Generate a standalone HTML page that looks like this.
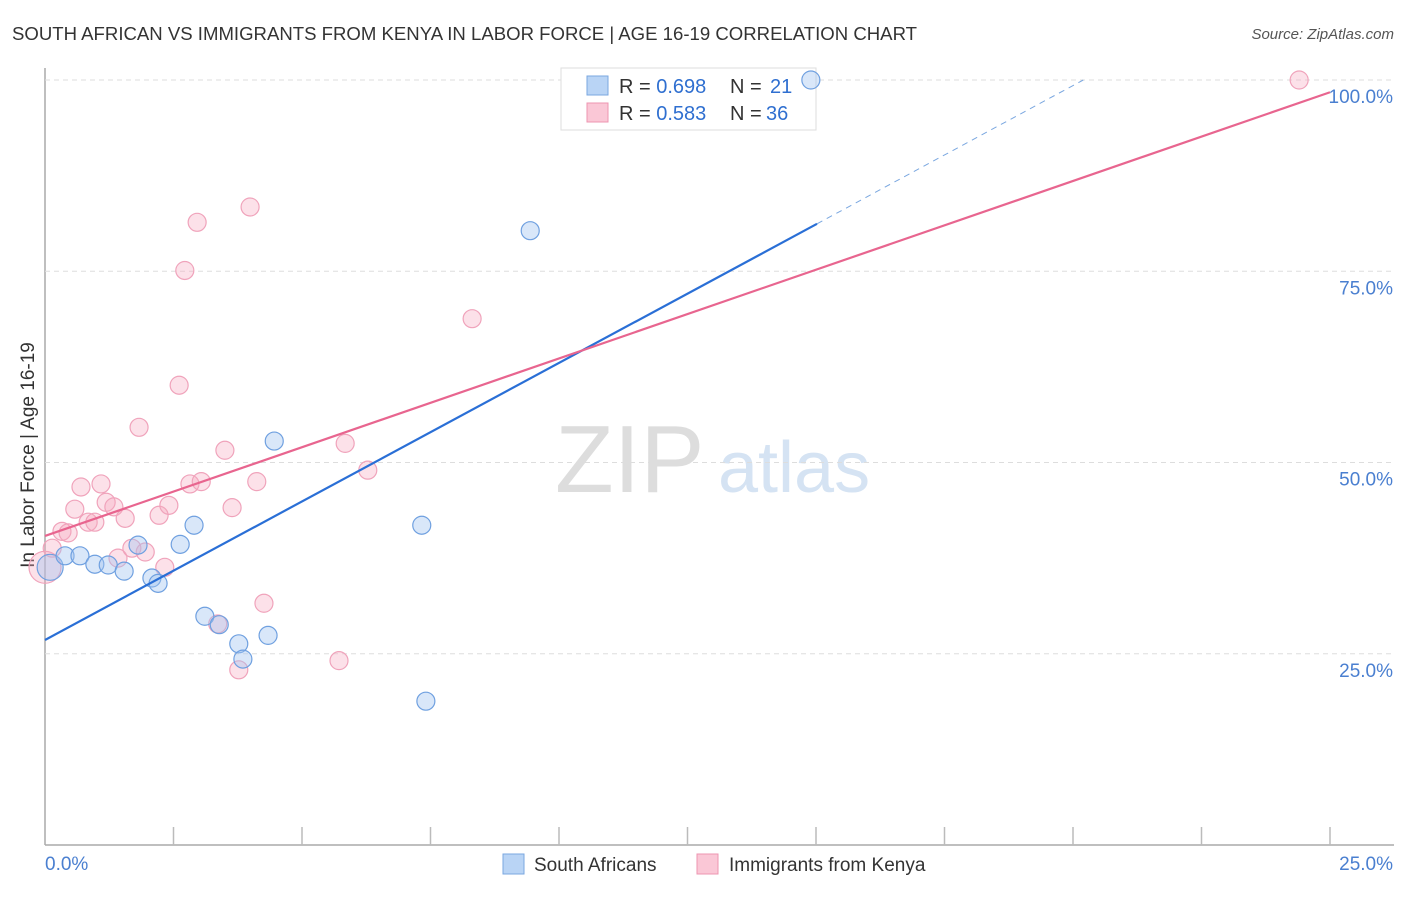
<!DOCTYPE html>
<html><head><meta charset="utf-8"><style>
body{margin:0;background:#fff;font-family:"Liberation Sans",sans-serif}
svg text{font-family:"Liberation Sans",sans-serif}
</style></head><body>
<svg id="c" width="1406" height="892">
<text x="12" y="40" font-size="18" fill="#333" textLength="905" lengthAdjust="spacingAndGlyphs">SOUTH AFRICAN VS IMMIGRANTS FROM KENYA IN LABOR FORCE | AGE 16-19 CORRELATION CHART</text>
<text x="1394" y="39" font-size="15" fill="#555" font-style="italic" text-anchor="end">Source: ZipAtlas.com</text>
<text x="555" y="492" font-size="96" fill="#ddd" font-family="Liberation Serif">ZIP</text>
<text x="718" y="492" font-size="72" fill="#d5e3f3">atlas</text>
<text transform="translate(34,455) rotate(-90)" font-size="19" fill="#333" text-anchor="middle">In Labor Force | Age 16-19</text>
<g id="grid"></g>
<g>
<rect x="561" y="68" width="255" height="62" fill="#fff" stroke="#ddd"/>
<rect x="587" y="76" width="21" height="19" fill="#b9d4f5" stroke="#7aa7e0"/>
<rect x="587" y="103" width="21" height="19" fill="#fac7d6" stroke="#ee94b0"/>
<text x="619" y="93" font-size="20" fill="#333">R = <tspan fill="#2f6fd0">0.698</tspan><tspan x="730">N = </tspan><tspan x="770" fill="#2f6fd0">21</tspan></text>
<text x="619" y="120" font-size="20" fill="#333">R = <tspan fill="#2f6fd0">0.583</tspan><tspan x="730">N = </tspan><tspan x="766" fill="#2f6fd0">36</tspan></text>
</g>
<g id="pts"></g><g id="lines"></g>
<g>
<rect x="503" y="854" width="21" height="20" fill="#b9d4f5" stroke="#7aa7e0"/>
<text x="534" y="871" font-size="19" fill="#333">South Africans</text>
<rect x="697" y="854" width="21" height="20" fill="#fac7d6" stroke="#ee94b0"/>
<text x="729" y="871" font-size="19" fill="#333">Immigrants from Kenya</text>
</g>
</svg>
<script>
const xTicks=[0,2.5,5,7.5,10,12.5,15,17.5,20,22.5,25];
const yTicks=[25,50,75,100];
const yTickLabels=["25.0%","50.0%","75.0%","100.0%"];
const blueX=[0.1,0.39,0.68,0.97,1.23,1.54,1.81,2.08,2.2,2.63,2.9,3.11,3.39,3.77,3.85,4.34,4.46,7.33,7.41,9.44,14.9];
const blueY=[36.3,37.8,37.8,36.7,36.6,35.8,39.2,34.9,34.2,39.3,41.8,29.9,28.8,26.3,24.3,27.4,52.8,41.8,18.8,80.3,100];
const blueR=[13,9,9,9,9,9,9,9,9,9,9,9,9,9,9,9,9,9,9,9,9];
const pinkX=[0,0.14,0.33,0.45,0.58,0.7,0.84,0.97,1.09,1.19,1.34,1.42,1.56,1.69,1.83,1.95,2.22,2.33,2.41,2.61,2.72,2.82,2.96,3.04,3.36,3.5,3.64,3.77,3.99,4.12,4.26,5.72,5.84,6.28,8.31,24.4];
const pinkY=[36.3,38.8,41,40.8,43.9,46.8,42.2,42.2,47.2,44.8,44.2,37.5,42.7,38.8,54.6,38.3,43.1,36.3,44.4,60.1,75.1,47.2,81.4,47.5,28.9,51.6,44.1,22.9,83.4,47.5,31.6,24.1,52.5,49,68.8,100];
const pinkR=[16,9,9,9,9,9,9,9,9,9,9,9,9,9,9,9,9,9,9,9,9,9,9,9,9,9,9,9,9,9,9,9,9,9,9,9];
const blueLine=[0,26.8,15.02,81.2,20.2,100];
const pinkLine=[0,40.4,25,98.4];
const X=v=>45+v*51.4, Y=v=>845-v*7.65;
const NS="http://www.w3.org/2000/svg";
function mk(t,a,p){const e=document.createElementNS(NS,t);for(const k in a)e.setAttribute(k,a[k]);p.appendChild(e);return e;}
const g=document.getElementById('grid');
let ax=mk('line',{x1:45,y1:68,x2:45,y2:845,stroke:'#aaa','stroke-width':1.5},g);


let bx=mk('line',{x1:45,y1:845,x2:1394,y2:845,stroke:'#aaa','stroke-width':1.5},g);


yTicks.forEach((v,i)=>{
 const l=mk('line',{x1:45,y1:Y(v),x2:1394,y2:Y(v),stroke:'#ddd','stroke-dasharray':'5,4'},g);
 
 
 const t=mk('text',{x:1393,y:Y(v)+23,'font-size':19,fill:'#4a7fd0','text-anchor':'end'},g);t.textContent=yTickLabels[i];
 
 
});
xTicks.forEach((v,i)=>{
 if(i==0)return;
 const l=mk('line',{x1:X(v),y1:827,x2:X(v),y2:845,stroke:'#bbb','stroke-width':1.5},g);
 
 
});
[[0,"0.0%",'start',45],[25,"25.0%",'end',1393]].forEach(a=>{
 const t=mk('text',{x:a[3],y:870,'font-size':19,fill:'#4a7fd0','text-anchor':a[2]},g);t.textContent=a[1];
 
 
});
const p=document.getElementById('pts');
pinkX.forEach((v,i)=>{const c=mk('circle',{cx:X(v),cy:Y(pinkY[i]),r:pinkR[i],fill:'rgba(246,168,192,0.35)',stroke:'#f0a3bb','stroke-width':1.2},p);
 
 });
blueX.forEach((v,i)=>{const c=mk('circle',{cx:X(v),cy:Y(blueY[i]),r:blueR[i],fill:'rgba(160,196,240,0.4)',stroke:'#6fa0e0','stroke-width':1.2},p);
 
 });
const L=document.getElementById('lines');
let b1=mk('line',{x1:X(blueLine[0]),y1:Y(blueLine[1]),x2:X(blueLine[2]),y2:Y(blueLine[3]),stroke:'#2a6fd6','stroke-width':2.2},L);


let b2=mk('line',{x1:X(blueLine[2]),y1:Y(blueLine[3]),x2:X(blueLine[4]),y2:Y(blueLine[5]),stroke:'#7aa7e0','stroke-width':1,'stroke-dasharray':'6,5'},L);


let p1=mk('line',{x1:X(pinkLine[0]),y1:Y(pinkLine[1]),x2:X(pinkLine[2]),y2:Y(pinkLine[3]),stroke:'#e8658f','stroke-width':2.2},L);


</script>
</body></html>
